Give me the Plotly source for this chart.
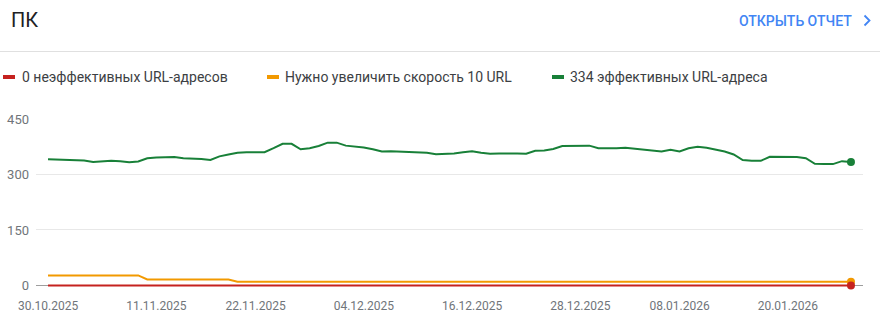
import plotly.graph_objects as go
import pandas as pd

# ---- data ----
start_date = "2025-10-30"
n_days = 90
dates = pd.date_range(start_date, periods=n_days, freq="D")

good_urls = [341, 340, 339, 338, 338, 334, 336, 337, 336, 333,
             335, 344, 346, 347, 347, 344, 344, 342, 339, 349,
             354, 359, 360, 359, 360, 371, 383, 383, 368, 371,
             377, 386, 386, 378, 376, 373, 368, 362, 363, 362,
             361, 360, 359, 355, 355, 357, 360, 363, 359, 356,
             357, 358, 357, 356, 364, 365, 369, 377, 377, 376,
             378, 371, 370, 371, 372, 370, 368, 365, 362, 367,
             362, 371, 375, 372, 367, 362, 354, 339, 337, 337,
             348, 348, 348, 347, 344, 329, 328, 328, 336, 334]
need_speed = [27] * 11 + [16] * 10 + [10] * 69
poor_urls = [0] * 90

y_ticks = [0, 150, 300, 450]
x_tick_dates = ["2025-10-30", "2025-11-11", "2025-11-22", "2025-12-04",
                "2025-12-16", "2025-12-28", "2026-01-08", "2026-01-20"]
x_tick_labels = ["30.10.2025", "11.11.2025", "22.11.2025", "04.12.2025",
                 "16.12.2025", "28.12.2025", "08.01.2026", "20.01.2026"]

RED, ORANGE, GREEN = "#c5221f", "#f29900", "#188038"

legend_items = [
    (RED, f"{poor_urls[-1]} неэффективных URL-адресов"),
    (ORANGE, f"Нужно увеличить скорость {need_speed[-1]} URL"),
    (GREEN, f"{good_urls[-1]} эффективных URL-адреса"),
]

# ---- layout geometry ----
W, H = 880, 321
L, R, T, B = 36, 17, 119, 34
PW, PH = W - L - R, H - T - B


def fx(px):
    return (px - L) / PW


def fy(py):
    return (H - B - py) / PH


fig = go.Figure()
for vals, col in [(good_urls, GREEN), (need_speed, ORANGE), (poor_urls, RED)]:
    fig.add_trace(go.Scatter(
        x=dates, y=vals, mode="lines",
        line=dict(color=col, width=2),
        hoverinfo="skip", showlegend=False, cliponaxis=False,
    ))
    fig.add_trace(go.Scatter(
        x=[dates[-1]], y=[vals[-1]], mode="markers",
        marker=dict(color=col, size=8),
        hoverinfo="skip", showlegend=False, cliponaxis=False,
    ))

shapes = [
    dict(type="line", xref="paper", yref="paper", x0=fx(0), x1=fx(W),
         y0=fy(51.5), y1=fy(51.5), line=dict(color="#e0e0e0", width=1)),
    dict(type="path", xref="paper", yref="paper",
         path=f"M {fx(864.5)} {fy(15.5)} L {fx(869.5)} {fy(20.5)} L {fx(864.5)} {fy(25.5)}",
         line=dict(color="#4285f4", width=1.8)),
]
annotations = [
    dict(text="ПК", xref="paper", yref="paper", x=fx(9), y=fy(19.5),
         xanchor="left", yanchor="middle", showarrow=False,
         font=dict(family="Roboto", size=20, color="#202124")),
    dict(text="ОТКРЫТЬ ОТЧЕТ", xref="paper", yref="paper", x=fx(854), y=fy(20.5),
         xanchor="right", yanchor="middle", showarrow=False,
         font=dict(family="Roboto", size=14, color="#4285f4", weight=500)),
]
leg_x = [(3, 21), (267, 284), (552, 569)]
for (col, txt), (mx, tx) in zip(legend_items, leg_x):
    shapes.append(dict(type="line", xref="paper", yref="paper",
                       x0=fx(mx), x1=fx(mx + 12), y0=fy(77), y1=fy(77),
                       line=dict(color=col, width=4)))
    annotations.append(dict(text=txt, xref="paper", yref="paper", x=fx(tx - 1), y=fy(77),
                            xanchor="left", yanchor="middle", showarrow=False,
                            font=dict(family="Roboto", size=14, color="#3c4043")))

x0 = pd.Timestamp("2025-10-30") - pd.Timedelta(hours=32)
x1 = pd.Timestamp("2026-01-27") + pd.Timedelta(hours=32)

fig.update_layout(
    width=W, height=H,
    margin=dict(l=L, r=R, t=T, b=B, pad=0, autoexpand=False),
    paper_bgcolor="white", plot_bgcolor="white",
    font=dict(family="Roboto", size=12, color="#70757a"),
    hovermode=False,
    shapes=shapes, annotations=annotations,
    xaxis=dict(type="date", range=[x0, x1], tickvals=x_tick_dates, ticktext=x_tick_labels,
               showgrid=False, zeroline=False, showline=False, ticks="",
               ticklabelstandoff=10, tickfont=dict(size=12, color="#70757a"),
               fixedrange=True, automargin=False),
    yaxis=dict(range=[-4.3, 450], tickvals=y_ticks, showgrid=True, gridcolor="#e8e8e8",
               gridwidth=1, zeroline=True, zerolinecolor="#9e9e9e", zerolinewidth=1,
               showline=False, ticks="", ticklabelstandoff=6,
               tickfont=dict(size=13, color="#70757a"), fixedrange=True, automargin=False),
)

fig.write_html("out.html", config={"displayModeBar": False})
